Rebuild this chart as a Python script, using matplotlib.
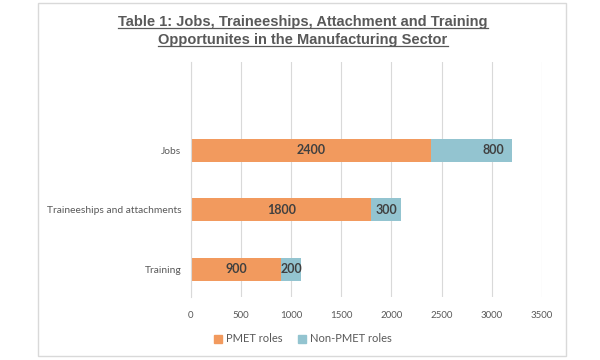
import matplotlib
matplotlib.use("Agg")
import matplotlib.pyplot as plt
from matplotlib.patches import Rectangle
from matplotlib.lines import Line2D

categories = ["Training", "Traineeships and attachments", "Jobs"]
pmet = [900, 1800, 2400]
non_pmet = [200, 300, 800]
series_names = ["PMET roles", "Non-PMET roles"]
xticks = [0, 500, 1000, 1500, 2000, 2500, 3000, 3500]
title = "Table 1: Jobs, Traineeships, Attachment and Training\nOpportunites in the Manufacturing Sector"

orange = "#F29A5E"
blue = "#93C4D0"
grey = "#595959"
body_font = ["Lato", "DejaVu Sans"]

fig = plt.figure(figsize=(6, 3.6), dpi=100)
fig.patch.set_facecolor("white")
fig.patches.append(Rectangle((38 / 600, 1 - 356 / 360), 528 / 600, 353 / 360,
                             transform=fig.transFigure, fill=False,
                             edgecolor="#D9D9D9", linewidth=1.0))

ax = fig.add_axes([191 / 600, 1 - 297 / 360, (541.7 - 191) / 600, (297 - 62) / 360])
y = range(len(categories))
ax.barh(y, pmet, height=0.39, color=orange, label=series_names[0])
ax.barh(y, non_pmet, left=pmet, height=0.39, color=blue, label=series_names[1])

for i, (p, n) in enumerate(zip(pmet, non_pmet)):
    ax.text(p / 2, i, str(p), ha="center", va="center", fontsize=9,
            fontweight="bold", color="#404040", family=body_font)
    # small segments: centred; wide segment label sits towards the bar end
    nx = max(p + n / 2, p + n - 180)
    ax.text(nx, i, str(n), ha="center", va="center", fontsize=9,
            fontweight="bold", color="#404040", family=body_font)

ax.set_xlim(0, 3500)
ax.set_ylim(-0.47, 3.49)
ax.set_xticks(xticks)
ax.set_xticklabels([str(t) for t in xticks], family=body_font, fontsize=7, color=grey)
ax.set_yticks(list(y))
ax.set_yticklabels(categories, family=body_font, fontsize=7.4, color=grey)
ax.tick_params(axis="both", length=0)
ax.tick_params(axis="x", pad=10)
ax.tick_params(axis="y", pad=7)
ax.grid(axis="x", color="#D9D9D9", linewidth=0.8)
ax.set_axisbelow(True)
for s in ["top", "right", "bottom"]:
    ax.spines[s].set_visible(False)
ax.spines["left"].set_color("#D9D9D9")
ax.spines["left"].set_linewidth(0.8)

handles = [Rectangle((0, 0), 1, 1, color=orange), Rectangle((0, 0), 1, 1, color=blue)]
leg = fig.legend(handles, series_names, loc="center", bbox_to_anchor=(303 / 600, 1 - 339 / 360),
                 ncol=2, frameon=False, handlelength=0.7, handleheight=0.7,
                 handletextpad=0.4, columnspacing=1.4,
                 prop={"family": body_font, "size": 8})
for t in leg.get_texts():
    t.set_color(grey)

# title with underline per line
lines = title.split("\n")
line_y = [1 - 22 / 360, 1 - 40 / 360]
renderer = fig.canvas.get_renderer()
for txt, yy in zip(lines, line_y):
    t = fig.text(303 / 600, yy, txt, ha="center", va="center", fontsize=10.5,
                 fontweight="bold", color=grey, family=["Liberation Sans", "DejaVu Sans"])
    bb = t.get_window_extent(renderer=renderer).transformed(fig.transFigure.inverted())
    fig.add_artist(Line2D([bb.x0, bb.x1], [bb.y0 + 0.002, bb.y0 + 0.002],
                          transform=fig.transFigure, color=grey, linewidth=0.9))

fig.savefig("out.png", dpi=100, facecolor="white")
